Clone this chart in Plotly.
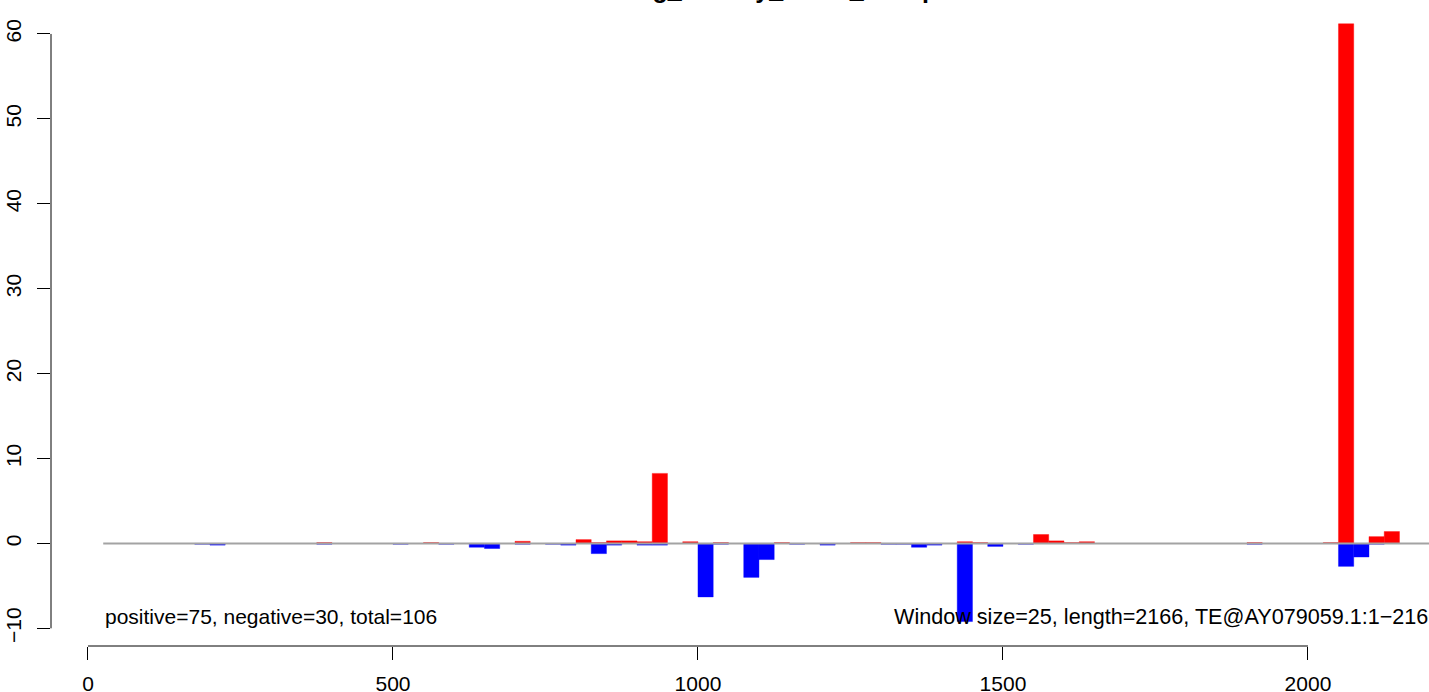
import plotly.graph_objects as go

# ---- data (window index -> value), window size 25 bp, length 2166 ----
window_size = 25
seq_length = 2166
n_windows = 87

pos_idx = [15, 22, 28, 32, 33, 34, 35, 36, 37, 39, 41, 45, 50, 51, 57, 58, 62, 63, 64, 65, 76, 81, 82, 84, 85]
pos_val = [0.1, 0.1, 0.25, 0.45, 0.1, 0.3, 0.3, 0.2, 8.25, 0.2, 0.1, 0.1, 0.1, 0.1, 0.2, 0.1, 1.05, 0.3, 0.1, 0.2, 0.1, 0.1, 61.2, 0.8, 1.4]

neg_idx = [7, 8, 15, 20, 23, 25, 26, 28, 30, 31, 33, 34, 36, 37, 40, 41, 43, 44, 46, 48, 52, 53, 54, 55, 57, 59, 61, 76, 82, 83, 84]
neg_val = [-0.1, -0.2, -0.1, -0.1, -0.1, -0.45, -0.6, -0.1, -0.1, -0.2, -1.2, -0.2, -0.2, -0.2, -6.3, -0.1, -4.0, -1.9, -0.1, -0.2, -0.1, -0.1, -0.45, -0.2, -9.2, -0.35, -0.1, -0.1, -2.7, -1.6, -0.1]

x_ticks = [0, 500, 1000, 1500, 2000]
y_ticks = [-10, 0, 10, 20, 30, 40, 50, 60]

title_text = "Norm.log_density_reads_bins.plot"
left_note = "positive=75, negative=30, total=106"
right_note = "Window size=25, length=2166, TE@AY079059.1:1\u22122166"

FONT = "Liberation Sans, Arial, Helvetica, sans-serif"

pos_x = [i * window_size + window_size / 2 for i in pos_idx]
neg_x = [i * window_size + window_size / 2 for i in neg_idx]

fig = go.Figure()
fig.add_trace(go.Bar(x=pos_x, y=pos_val, width=window_size, base=0,
                     marker=dict(color="#FF0000", line=dict(color="#FF0000", width=0.4)),
                     showlegend=False, hoverinfo="x+y"))
fig.add_trace(go.Bar(x=neg_x, y=neg_val, width=window_size, base=0,
                     marker=dict(color="#0000FF", line=dict(color="#0000FF", width=0.4)),
                     showlegend=False, hoverinfo="x+y"))
# zero baseline (drawn over bars)
fig.add_trace(go.Scatter(x=[window_size, 2252], y=[0, 0], mode="lines",
                         line=dict(color="#A3A3A3", width=2), showlegend=False,
                         hoverinfo="skip"))

# axes ranges emulate R's 4% extension
x_lo, x_hi = -60.6, 2198.4
y_lo, y_hi = -12.08, 64.0

fig.update_layout(
    width=1429, height=692,
    margin=dict(l=51, r=0, t=0, b=46, autoexpand=False),
    paper_bgcolor="white", plot_bgcolor="white",
    barmode="overlay",
    font=dict(family=FONT, size=21, color="black"),
    xaxis=dict(range=[x_lo, x_hi], tickvals=x_ticks, ticktext=[str(v) for v in x_ticks],
               ticks="outside", ticklen=13, tickwidth=1, tickcolor="black",
               showline=False, showgrid=False, zeroline=False, automargin=False,
               tickfont=dict(size=21, family=FONT), ticklabelstandoff=6),
    yaxis=dict(range=[y_lo, y_hi], tickvals=y_ticks, ticktext=[str(v).replace("-", "\u2212") for v in y_ticks],
               ticks="outside", ticklen=13, tickwidth=1, tickcolor="black",
               showline=False, showgrid=False, zeroline=False, tickangle=-90, automargin=False,
               tickfont=dict(size=21, family=FONT), ticklabelstandoff=8),
    shapes=[
        dict(type="line", xref="paper", yref="y", x0=0, x1=0, y0=-10, y1=60,
             line=dict(color="black", width=1)),
        dict(type="line", xref="x", yref="paper", x0=0, x1=2000, y0=0, y1=0,
             line=dict(color="black", width=1)),
    ],
    annotations=[
        dict(text=left_note, xref="x", yref="y", x=window_size, y=-8.6,
             xanchor="left", yanchor="middle", showarrow=False,
             font=dict(size=21, family=FONT, color="black")),
        dict(text=right_note, xref="x", yref="y", x=1318, y=-8.6,
             xanchor="left", yanchor="middle", showarrow=False,
             font=dict(size=21.6, family=FONT, color="black")),
        dict(text="<b>" + title_text + "</b>", xref="paper", yref="paper",
             x=(763 - 51) / 1378, y=1, xanchor="center", yanchor="bottom",
             yshift=-5, showarrow=False,
             font=dict(size=25, family=FONT, color="black")),
    ],
)

fig.write_html("out.html",
               config={"displayModeBar": False},
               post_script="document.body.style.margin='0';document.body.style.overflow='hidden';")
